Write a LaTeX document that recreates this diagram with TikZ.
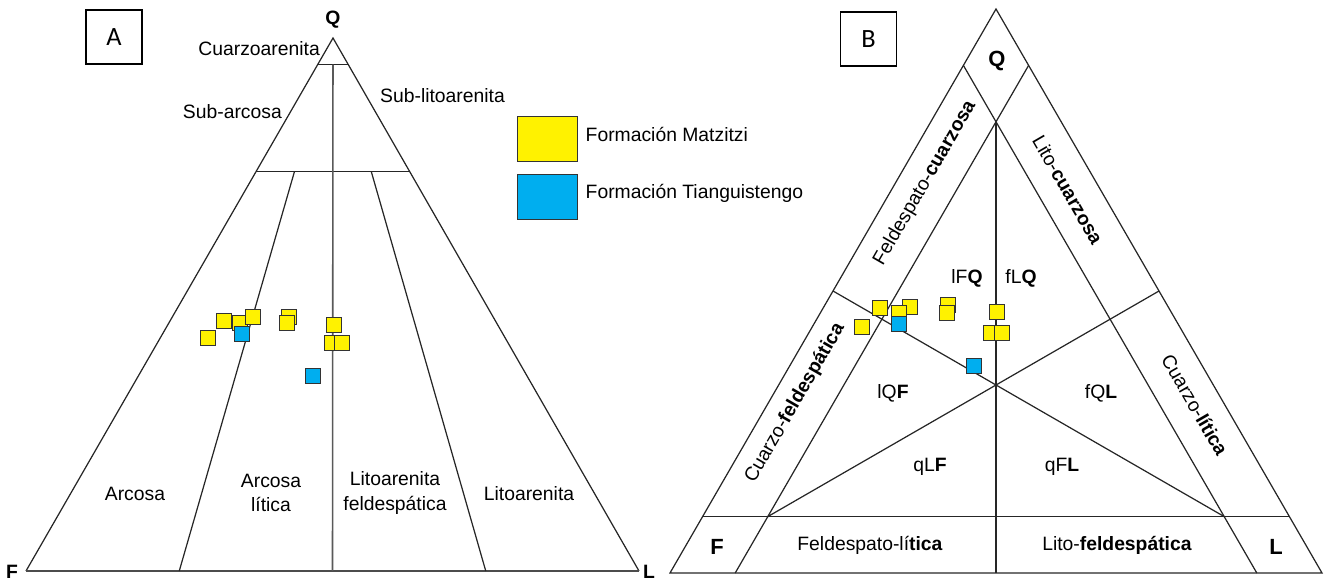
\documentclass[tikz,border=0pt]{standalone}
\usepackage{fontspec}
\setmainfont{Liberation Sans}
\newfontfamily\panelfont{Carlito}
\usetikzlibrary{calc}
\definecolor{matzyellow}{HTML}{FFF200}
\definecolor{tianblue}{HTML}{00AEEF}
\tikzset{every node/.style={font=\fontsize{11}{14}\selectfont},
  fieldline/.style={line width=0.7pt, black!85},
  pole/.style={font=\fontsize{11}{14}\selectfont\bfseries},
  bigpole/.style={font=\fontsize{12.5}{15}\selectfont\bfseries},
  panel/.style={draw, line width=0.8pt, minimum width=11.2mm, minimum height=10.8mm,
    inner sep=0pt, font=\panelfont\fontsize{15}{17}\selectfont},
  matz/.style={draw=black!80, fill=matzyellow, line width=0.5pt, minimum size=3mm, inner sep=0pt},
  tian/.style={draw=black!80, fill=tianblue, line width=0.5pt, minimum size=3mm, inner sep=0pt}}

\begin{document}
\begin{tikzpicture}[x=0.2mm, y=-0.2mm]
  \useasboundingbox (0,0) rectangle (1332,580);
  % A: Folk
  \coordinate (QA) at (333,38);
  \coordinate (FA) at (26,571);
  \coordinate (LA) at (639,571);
  \coordinate (MA) at ($(FA)!0.5!(LA)$);
  \draw[fieldline] (FA) -- (QA) -- (LA);
  \draw[fieldline, line width=1pt, black!70] (FA) -- (LA);
  \draw[fieldline] ($(QA)!0.05!(FA)$) -- ($(QA)!0.05!(LA)$);
  \draw[fieldline] ($(QA)!0.25!(FA)$) -- ($(QA)!0.25!(LA)$);
  \draw[fieldline, line width=0.9pt, black!65] ($(QA)!0.05!(MA)$) -- (MA);
  \foreach \r/\n in {0.25/1, 0.75/3} {
    \coordinate (bA\n) at ($(FA)!\r!(LA)$);
    \draw[fieldline] ($(QA)!0.25!(bA\n)$) -- (bA\n);
  }
  \node[pole] (qa) at (333,20) {Q};
  \node[pole] (fa) at (12,572) {F};
  \node[pole] (la) at (649,572) {L};
  \node[panel] (pa) at (114,37) {A};
  \node[anchor=east] (cuarzoarenita) at (326,49) {Cuarzoarenita};
  \node[anchor=east] (subarcosa) at (288,112) {Sub-arcosa};
  \node[anchor=west] (sublito) at (374,96) {Sub-litoarenita};
  \node (arcosa) at (135,494) {Arcosa};
  \node[align=center] (arclit) at (271,493) {Arcosa\\lítica};
  \node[align=center] (litfeld) at (395,493) {Litoarenita\\feldespática};
  \node (litoarenita) at (529,494) {Litoarenita};

  % legend
  \node[matz, minimum width=12mm, minimum height=9mm] (keym) at (547,138.5) {};
  \node[tian, minimum width=12mm, minimum height=9mm] (keyt) at (547,196.5) {};
  \node[anchor=west] (keymtext) at (579.5,134) {Formación Matzitzi};
  \node[anchor=west] (keyttext) at (579.5,193) {Formación Tianguistengo};

  % samples in A
  \foreach \x/\y [count=\i] in {224/321, 240/323, 253/317, 208/338, 289/317,
      287/323, 334/325, 332/343, 342/343}
    \node[matz] (ma\i) at (\x,\y) {};
  \foreach \x/\y [count=\i] in {242/334, 313/376}
    \node[tian] (ta\i) at (\x,\y) {};

  % B: QFL fields
  \coordinate (QB) at (996,9);
  \coordinate (FB) at (670,573);
  \coordinate (LB) at (1322,573);
  \coordinate (MB) at ($(FB)!0.5!(LB)$);
  \coordinate (TB) at ($(QB)!0.2!(MB)$);
  \coordinate (iF) at ($0.1*(QB)+0.8*(FB)+0.1*(LB)$);
  \coordinate (iL) at ($0.1*(QB)+0.1*(FB)+0.8*(LB)$);
  \draw[fieldline] (QB) -- (FB) -- (LB) -- cycle;
  \draw[fieldline] ($(FB)!0.1!(QB)$) -- ($(LB)!0.1!(QB)$);
  \draw[fieldline] ($(QB)!0.1!(LB)$) -- ($(FB)!0.1!(LB)$);
  \draw[fieldline] ($(QB)!0.1!(FB)$) -- ($(LB)!0.1!(FB)$);
  \draw[fieldline] ($(QB)!0.5!(FB)$) -- (iL);
  \draw[fieldline] ($(QB)!0.5!(LB)$) -- (iF);
  \draw[fieldline, line width=0.9pt] (TB) -- (MB);
  \node[bigpole] (qb) at (997,61) {Q};
  \node[bigpole] (fb) at (717,547) {F};
  \node[bigpole] (lb) at (1276,547) {L};
  \node[panel] (pb) at (868.5,39) {B};
  \node (lfq) at (967,278) {lF\textbf{Q}};
  \node (flq) at (1021,278) {fL\textbf{Q}};
  \node (lqf) at (893,393) {lQ\textbf{F}};
  \node (fql) at (1101,393) {fQ\textbf{L}};
  \node (qlf) at (930,467) {qL\textbf{F}};
  \node (qfl) at (1062,467) {qF\textbf{L}};
  \node[rotate=60] (feldcuarz) at (925,183) {Feldespato-\textbf{cuarzosa}};
  \node[rotate=-60] (litocuarz) at (1068,190) {Lito-\textbf{cuarzosa}};
  \node[rotate=60] (cuarzfeld) at (795,403) {Cuarzo-\textbf{feldespática}};
  \node[rotate=-60] (cuarzlit) at (1195,405) {Cuarzo-\textbf{lítica}};
  \node (feldlit) at (870,545) {Feldespato-lí\textbf{tica}};
  \node (litofeld) at (1117,545) {Lito-\textbf{feldespática}};

  % samples in B
  \foreach \x/\y [count=\i] in {880/308, 910/307, 899/313, 862/327, 948/305,
      947/313, 997/312, 991/333, 1002/333}
    \node[matz] (mb\i) at (\x,\y) {};
  \foreach \x/\y [count=\i] in {899/324, 974/366}
    \node[tian] (tb\i) at (\x,\y) {};
\end{tikzpicture}
\end{document}
